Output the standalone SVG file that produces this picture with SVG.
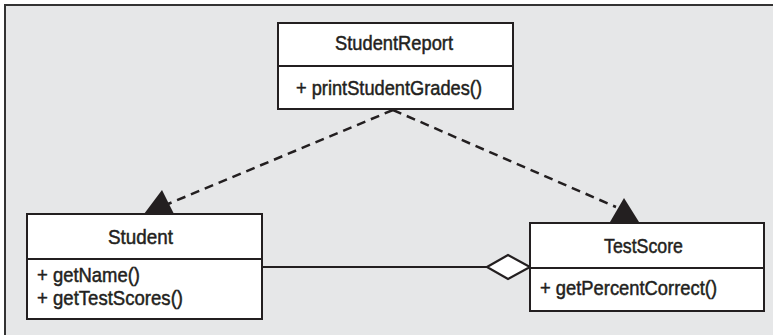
<svg xmlns="http://www.w3.org/2000/svg" width="773" height="335" viewBox="0 0 773 335">
  <style>
    .box { fill: #ffffff; stroke: #231f20; stroke-width: 2; }
    .div { stroke: #231f20; stroke-width: 2; }
    .t { font-family: "Liberation Sans Narrow", "Liberation Sans", Arial, sans-serif; font-size: 21px; fill: #231f20; stroke: #231f20; stroke-width: 0.5; }
    .dash { fill: none; stroke: #231f20; stroke-width: 2.5; stroke-dasharray: 9 6; }
    .solid { fill: none; stroke: #231f20; stroke-width: 2; }
    .head { fill: #231f20; stroke: none; }
    .diamond { fill: #ffffff; stroke: #231f20; stroke-width: 2.2; }
  </style>
  <rect x="0" y="0" width="773" height="335" fill="#ffffff"/>
  <rect x="5" y="5" width="780" height="340" fill="#e6e7e8" stroke="#333333" stroke-width="2"/>

  <g id="connectors">
    <line class="dash" x1="393" y1="110" x2="168" y2="204"/>
    <polygon class="head" points="162,190 144,214 174,214"/>
    <line class="dash" x1="393" y1="110" x2="616" y2="207"/>
    <polygon class="head" points="624,198 610,222 639,222"/>
    <line class="solid" x1="262" y1="267" x2="487" y2="267"/>
    <polygon class="diamond" points="487,267 508,255 530,267 508,279"/>
  </g>

  <g id="StudentReport">
    <rect class="box" x="278" y="23" width="235" height="86"/>
    <line class="div" x1="278" y1="66" x2="513" y2="66"/>
    <text class="t" x="335" y="50" textLength="118" lengthAdjust="spacingAndGlyphs">StudentReport</text>
    <text class="t" x="296" y="95" textLength="186" lengthAdjust="spacingAndGlyphs">+ printStudentGrades()</text>
  </g>

  <g id="Student">
    <rect class="box" x="27" y="214" width="235" height="105"/>
    <line class="div" x1="27" y1="259" x2="262" y2="259"/>
    <text class="t" x="108" y="244" textLength="65" lengthAdjust="spacingAndGlyphs">Student</text>
    <text class="t" x="37" y="282" textLength="103" lengthAdjust="spacingAndGlyphs">+ getName()</text>
    <text class="t" x="37" y="305" textLength="146" lengthAdjust="spacingAndGlyphs">+ getTestScores()</text>
  </g>

  <g id="TestScore">
    <rect class="box" x="530" y="223" width="234" height="88"/>
    <line class="div" x1="530" y1="268" x2="764" y2="268"/>
    <text class="t" x="604" y="253" textLength="79" lengthAdjust="spacingAndGlyphs">TestScore</text>
    <text class="t" x="540" y="295" textLength="177" lengthAdjust="spacingAndGlyphs">+ getPercentCorrect()</text>
  </g>
</svg>
